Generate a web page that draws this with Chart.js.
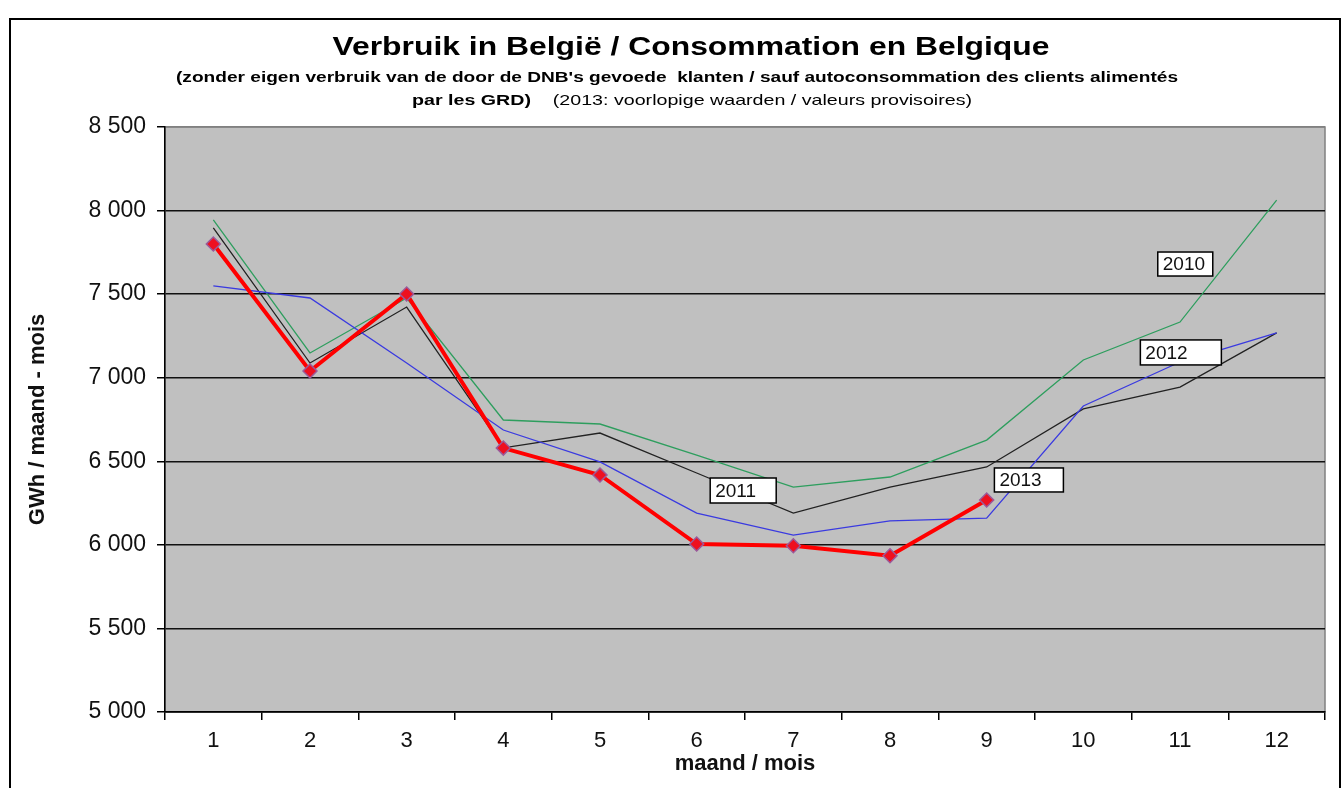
<!DOCTYPE html>
<html>
<head>
<meta charset="utf-8">
<script src="https://cdn.jsdelivr.net/npm/chart.js@4"></script>
<style>
  html, body { margin: 0; padding: 0; background: #fff; }
  #wrap { width: 1344px; height: 788px; }
</style>
</head>
<body>
<div id="wrap"><canvas id="verbruikChart"></canvas></div>
<script>
  // data (GWh per month)
  const months = ['1', '2', '3', '4', '5', '6', '7', '8', '9', '10', '11', '12'];
  const y2010 = [7945, 7148, 7477, 6747, 6723, 6537, 6346, 6406, 6627, 7106, 7333, 8063];
  const y2011 = [7896, 7088, 7423, 6580, 6669, 6430, 6190, 6346, 6466, 6813, 6944, 7268];
  const y2012 = [7549, 7477, 7088, 6687, 6496, 6190, 6058, 6143, 6160, 6831, 7094, 7268];
  const y2013 = [7800, 7040, 7501, 6579, 6418, 6005, 5995, 5935, 6268];
  const yTicks = [5000, 5500, 6000, 6500, 7000, 7500, 8000, 8500];

  // year labels: anchor = category index (fractional) + value of the box's top-left
  const yearLabels = [
    { text: '2010', at: 9.77, val: 7752, w: 55, h: 24 },
    { text: '2012', at: 9.59, val: 7226, w: 81, h: 25 },
    { text: '2013', at: 8.08, val: 6460, w: 69, h: 24 },
    { text: '2011', at: 5.14, val: 6400, w: 66, h: 25 }
  ];

  const FONT = 'Arial, "Liberation Sans", sans-serif';

  function fmt(v) {
    return String(v).replace(/\B(?=(\d{3})+(?!\d))/g, ' ');
  }

  // draws a list of [text, font] parts centred on cx, stretched to a given width
  function drawStretched(ctx, parts, cx, y, width) {
    let total = 0;
    const ws = parts.map(p => { ctx.font = p[1]; const w = ctx.measureText(p[0]).width; total += w; return w; });
    const sx = width / total;
    ctx.save();
    ctx.translate(cx - width / 2, y);
    ctx.scale(sx, 1);
    ctx.textAlign = 'left';
    ctx.textBaseline = 'middle';
    let x = 0;
    parts.forEach((p, i) => { ctx.font = p[1]; ctx.fillText(p[0], x, 0); x += ws[i]; });
    ctx.restore();
  }

  const decor = {
    id: 'decor',
    beforeDraw(chart) {
      const { ctx, chartArea: a } = chart;
      ctx.save();
      ctx.fillStyle = '#c0c0c0';
      ctx.fillRect(a.left, a.top, a.right - a.left, a.bottom - a.top);
      ctx.strokeStyle = '#808080';
      ctx.lineWidth = 1.5;
      ctx.strokeRect(a.left, a.top, a.right - a.left, a.bottom - a.top);
      ctx.restore();
    },
    afterDraw(chart) {
      const { ctx, scales } = chart;
      ctx.save();
      // outer frame
      ctx.strokeStyle = '#000';
      ctx.lineWidth = 2;
      ctx.strokeRect(10, 19, 1330, 800);

      // titles
      ctx.fillStyle = '#000';
      drawStretched(ctx, [['Verbruik in België / Consommation en Belgique', 'bold 26px ' + FONT]], 691, 48, 717);
      drawStretched(ctx, [["(zonder eigen verbruik van de door de DNB's gevoede  klanten / sauf autoconsommation des clients alimentés", 'bold 15px ' + FONT]], 677, 78, 1002);
      drawStretched(ctx, [
        ['par les GRD)', 'bold 15px ' + FONT],
        ['    (2013: voorlopige waarden / valeurs provisoires)', '15px ' + FONT]
      ], 692, 101, 560);

      // year boxes
      ctx.font = '19px ' + FONT;
      ctx.textAlign = 'left';
      ctx.textBaseline = 'middle';
      yearLabels.forEach(l => {
        const x = scales.x.getPixelForValue(l.at);
        const y = scales.y.getPixelForValue(l.val);
        ctx.fillStyle = '#fff';
        ctx.fillRect(x, y, l.w, l.h);
        ctx.strokeStyle = '#000';
        ctx.lineWidth = 1.5;
        ctx.strokeRect(x, y, l.w, l.h);
        ctx.fillStyle = '#111';
        ctx.fillText(l.text, x + 5, y + l.h / 2 + 1);
      });
      ctx.restore();
    }
  };

  const ctx = document.getElementById('verbruikChart').getContext('2d');
  new Chart(ctx, {
    type: 'line',
    data: {
      labels: months,
      datasets: [
        {
          label: '2013', data: y2013, order: 0,
          borderColor: '#ff0000', borderWidth: 4,
          pointStyle: 'rectRot', pointRadius: 7,
          pointBackgroundColor: '#ee1020', pointBorderColor: '#9a5a9a', pointBorderWidth: 1.5
        },
        { label: '2012', data: y2012, order: 1, borderColor: '#3a3ae0', borderWidth: 1.3, pointRadius: 0 },
        { label: '2011', data: y2011, order: 2, borderColor: '#222222', borderWidth: 1.3, pointRadius: 0 },
        { label: '2010', data: y2010, order: 3, borderColor: '#2e9e5e', borderWidth: 1.3, pointRadius: 0 }
      ]
    },
    options: {
      responsive: true,
      maintainAspectRatio: false,
      animation: false,
      layout: { padding: { left: 20, right: 19, top: 127, bottom: 0 } },
      elements: { line: { tension: 0 } },
      plugins: {
        legend: { display: false },
        tooltip: { enabled: false }
      },
      scales: {
        x: {
          type: 'category',
          offset: true,
          afterFit(scale) { scale.height = 76; },
          grid: { offset: true, drawOnChartArea: false, tickLength: 8, tickColor: '#000', lineWidth: 1.5 },
          border: { color: '#000', width: 1.5 },
          ticks: { color: '#111', padding: 8, font: { family: FONT, size: 22 } },
          title: {
            display: true, text: 'maand / mois', color: '#111',
            font: { family: FONT, size: 22, weight: 'bold' },
            padding: { top: 0, bottom: 11 }
          }
        },
        y: {
          min: 5000, max: 8500,
          afterFit(scale) { scale.width = 145; },
          afterBuildTicks(scale) { scale.ticks = yTicks.map(v => ({ value: v })); },
          grid: {
            color: c => (c.tick && c.tick.value === 8500) ? '#808080' : '#111',
            lineWidth: 1.5, tickLength: 8, tickColor: '#000'
          },
          border: { color: '#000', width: 1.5 },
          ticks: { color: '#111', padding: 11, font: { family: FONT, size: 23 }, callback: v => fmt(v) },
          title: {
            display: true, text: 'GWh / maand - mois', color: '#111',
            font: { family: FONT, size: 22, weight: 'bold' },
            padding: { top: 5, bottom: 0 }
          }
        }
      }
    },
    plugins: [decor]
  });
</script>
</body>
</html>
